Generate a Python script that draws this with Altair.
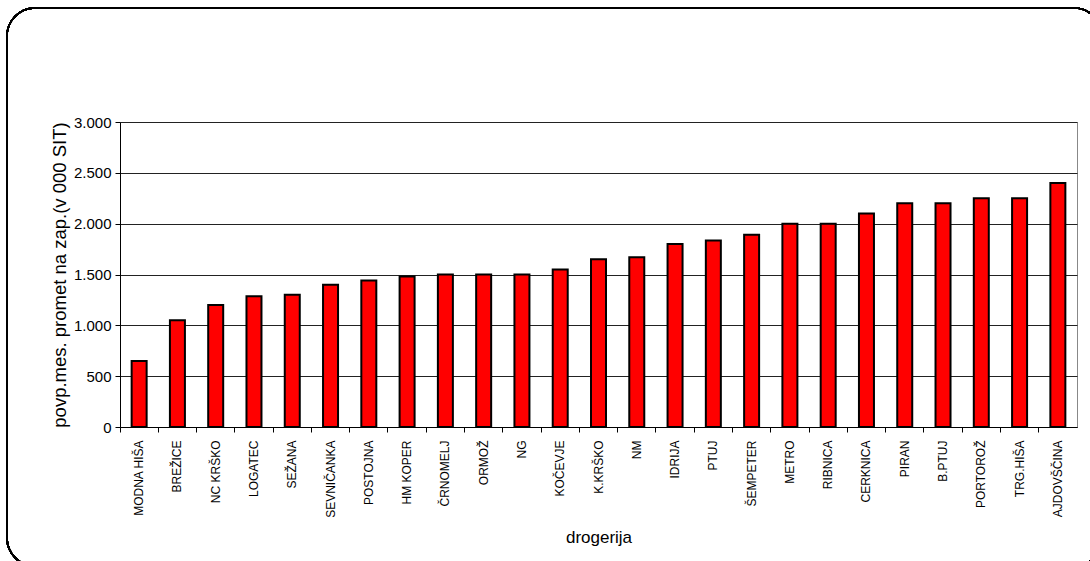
import altair as alt
import pandas as pd

# Drugstores, sorted by average monthly turnover per employee (in 000 SIT)
stores = [
    "MODNA HIŠA", "BREŽICE", "NC KRŠKO", "LOGATEC", "SEŽANA", "SEVNIČANKA",
    "POSTOJNA", "HM KOPER", "ČRNOMELJ", "ORMOŽ", "NG", "KOČEVJE", "K.KRŠKO",
    "NM", "IDRIJA", "PTUJ", "ŠEMPETER", "METRO", "RIBNICA", "CERKNICA",
    "PIRAN", "B.PTUJ", "PORTOROŽ", "TRG.HIŠA", "AJDOVŠČINA",
]
turnover = [
    650, 1050, 1200, 1285, 1300, 1400,
    1440, 1480, 1500, 1500, 1500, 1550, 1650,
    1670, 1800, 1835, 1890, 2000, 2000, 2100,
    2200, 2200, 2250, 2250, 2400,
]
y_ticks = [0, 500, 1000, 1500, 2000, 2500, 3000]

df = pd.DataFrame({"drogerija": stores, "promet": turnover})

FONT = "Liberation Sans"
W, H = 957, 305
PAD = {"left": 120, "top": 122, "right": 13, "bottom": 134}

bars = alt.Chart(df).mark_bar(
    color="#ff0000", stroke="#000000", strokeWidth=2, width=15
).encode(
    x=alt.X(
        "drogerija:N",
        sort=stores,
        title="drogerija",
        scale=alt.Scale(paddingInner=0.0, paddingOuter=0.0),
        axis=alt.Axis(
            labelAngle=-90,
            labelFont=FONT,
            labelFontSize=12,
            labelColor="#000000",
            labelPadding=8,
            tickColor="#000000",
            tickSize=5,
            bandPosition=0,
            domainColor="#000000",
            titleFont=FONT,
            titleFontSize=17,
            titleFontWeight="normal",
            titleColor="#000000",
            titlePadding=12,
        ),
    ),
    y=alt.Y(
        "promet:Q",
        title="povp.mes. promet na zap.(v 000 SIT)",
        scale=alt.Scale(domain=[0, 3000], nice=False),
        axis=alt.Axis(
            values=y_ticks,
            labelExpr="replace(datum.label, ',', '.')",
            labelFont=FONT,
            labelFontSize=15,
            labelColor="#000000",
            labelPadding=4,
            tickColor="#000000",
            tickSize=5,
            domainColor="#000000",
            grid=True,
            gridColor="#222222",
            gridWidth=1,
            titleFont=FONT,
            titleFontSize=18.5,
            titleFontWeight="normal",
            titleColor="#000000",
            titlePadding=4,
        ),
    ),
)

# Rounded outer frame around the whole figure
frame = alt.Chart(df).mark_rect(
    fill=None, stroke="#000000", strokeWidth=1.5, cornerRadius=28, clip=False
).encode(
    x=alt.value(-113),
    x2=alt.value(982),
    y=alt.value(-114),
    y2=alt.value(444),
)

chart = alt.layer(frame, bars).properties(
    width=W,
    height=H,
    padding=PAD,
    autosize=alt.AutoSizeParams(type="none"),
    background="#ffffff",
).configure_view(
    stroke="#888888", strokeWidth=1
)

chart.save("out.html", embed_options={"renderer": "svg", "actions": False})
